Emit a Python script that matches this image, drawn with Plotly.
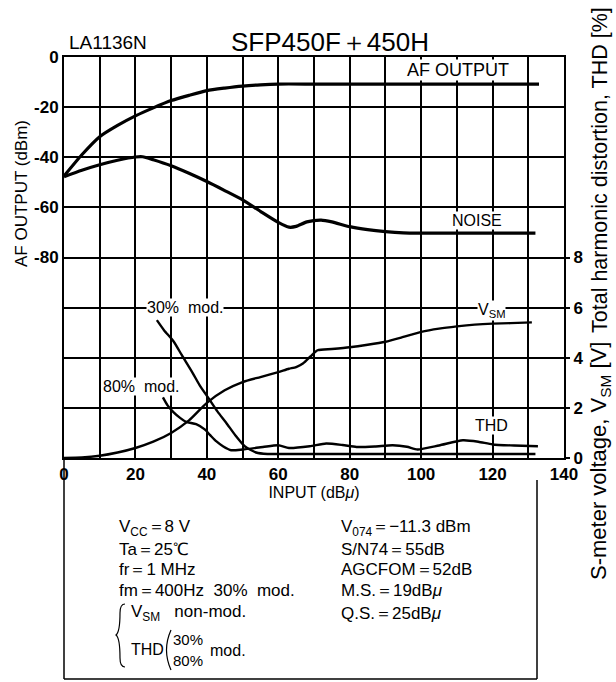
import plotly.graph_objects as go

# ---------------- data ----------------
x_af = [0, 5, 10, 15, 20, 25, 30, 35, 40, 45, 50, 55, 60, 70, 80, 100, 120, 133]
af_output = [-47.5, -39, -31.8, -27.3, -23.5, -20.3, -17.4, -15.3, -13.4, -12.4, -11.6, -11.1,
             -10.8, -10.8, -10.8, -10.8, -10.8, -10.8]

x_noise = [0, 5, 10, 15, 20, 22, 25, 30, 35, 40, 45, 50, 55, 60, 63, 65, 68, 72, 75, 80, 85,
           90, 95, 100, 110, 120, 132]
noise = [-47.8, -45.2, -43, -41.2, -39.9, -39.8, -41.0, -43.4, -46.4, -49.7, -53.3, -57,
         -61.6, -66, -67.9, -67.6, -65.8, -65.1, -65.8, -67.7, -68.9, -69.7, -70.2, -70.3,
         -70.3, -70.3, -70.3]

x_vsm = [0, 5, 10, 15, 20, 25, 30, 35, 40, 45, 50, 55, 60, 63, 65, 67, 69, 71, 75, 80, 85,
         90, 95, 100, 105, 110, 115, 120, 125, 131]
vsm = [0, 0.02, 0.09, 0.22, 0.4, 0.65, 1.0, 1.5, 2.2, 2.7, 3.03, 3.23, 3.43, 3.56, 3.63,
       3.78, 4.05, 4.3, 4.35, 4.42, 4.52, 4.64, 4.83, 5.03, 5.16, 5.25, 5.32, 5.36, 5.38, 5.41]

x_thd30 = [26, 28, 30.7, 33, 36, 38, 40.6, 43, 45.4, 48, 50.6, 53.8, 57, 60, 70, 80, 100,
           120, 132]
thd30 = [5.5, 5.1, 4.65, 4.1, 3.4, 2.9, 2.36, 1.85, 1.41, 0.9, 0.47, 0.22, 0.16, 0.16, 0.16,
         0.16, 0.16, 0.16, 0.16]

x_thd80 = [27.7, 29, 30.7, 32.5, 34.2, 37, 39.4, 41, 42.6, 44.5, 46.8, 50, 55.7, 60, 63,
           68.8, 73.4, 78, 81.9, 87, 92, 96, 99, 105, 111.7, 116, 120, 126, 132.7]
thd80 = [2.42, 2.1, 1.82, 1.6, 1.44, 1.35, 1.14, 0.9, 0.67, 0.47, 0.31, 0.34, 0.44, 0.51,
         0.4, 0.47, 0.58, 0.52, 0.44, 0.46, 0.51, 0.45, 0.34, 0.5, 0.71, 0.65, 0.54, 0.5, 0.47]

x_ticks = list(range(0, 141, 10))
x_ticktext = ["0", "", "20", "", "40", "", "60", "", "80", "", "100", "", "120", "", "140"]
left_ticks = list(range(-160, 1, 20))
left_ticktext = ["", "", "", "", "-80", "-60", "-40", "-20", "0"]
right_ticks = [0, 2, 4, 6, 8]
right_ticktext = ["0", "2", "4", "6", "8"]

# ---------------- layout helpers (pixel -> paper) ----------------
W, H = 616, 682
L, R, T, B = 64, 52, 57, 224
PW, PH = W - L - R, H - T - B


def px(x):
    return (x - L) / PW


def py(y):
    return (H - B - y) / PH


FONT = "Liberation Sans, Arial, sans-serif"
LW = 3.2

fig = go.Figure()
common = dict(mode="lines", line=dict(color="black", width=LW, shape="spline", smoothing=0.6),
              showlegend=False, hoverinfo="skip")
fig.add_trace(go.Scatter(x=x_af, y=af_output, yaxis="y", **common))
fig.add_trace(go.Scatter(x=x_noise, y=noise, yaxis="y", **common))
thin = dict(common)
thin["line"] = dict(color="black", width=2.4, shape="spline", smoothing=0.6)
fig.add_trace(go.Scatter(x=x_vsm, y=vsm, yaxis="y2", **thin))
fig.add_trace(go.Scatter(x=x_thd30, y=thd30, yaxis="y2", **thin))
fig.add_trace(go.Scatter(x=x_thd80, y=thd80, yaxis="y2", **thin))

ann = []


def text(x, y, s, size=16, xanchor="center", yanchor="middle", bg=None, angle=0,
         font=FONT, weight="normal"):
    d = dict(x=px(x), y=py(y), xref="paper", yref="paper", text=s, showarrow=False,
             xanchor=xanchor, yanchor=yanchor, textangle=angle, borderpad=0,
             font=dict(family=font, size=size, color="black", weight=weight))
    if bg:
        d["bgcolor"] = bg
    ann.append(d)


# titles
text(108, 42, "LA1136N", size=19)
text(330, 42, "SFP450F＋450H", size=26)
text(21, 194, "AF OUTPUT (dBm)", size=17, angle=-90)
text(600, 6, "Total harmonic distortion, THD [%]", size=21.5, angle=-90, yanchor="top")
text(600, 341, "S-meter voltage, V<sub>SM</sub> [V]", size=22, angle=-90, yanchor="top")

# curve labels
text(458, 70, "AF OUTPUT", size=18, bg="white")
text(477, 220, "NOISE", size=16, bg="white")
text(185, 307, "30%\u00a0\u00a0mod.", size=16, bg="white")
text(141, 386, "80%\u00a0\u00a0mod.", size=16, bg="white")
text(491, 310, "V<sub>SM</sub>", size=16, bg="white")
text(491, 425, "THD", size=16, bg="white")

# condition block
rows = [528, 549, 569, 590, 613]
lx, rx = 118, 340
BS = 17
text(lx, rows[0], "V<sub>CC</sub>＝8 V", size=BS, xanchor="left")
text(lx, rows[1], "Ta＝25℃", size=BS, xanchor="left")
text(lx, rows[2], "fr＝1 MHz", size=BS, xanchor="left")
text(lx, rows[3], "fm＝400Hz\u00a0\u00a030%\u00a0\u00a0mod.", size=BS, xanchor="left")
text(130, rows[4], "V<sub>SM</sub>\u00a0\u00a0\u00a0non-mod.", size=BS, xanchor="left")
text(130, 649, "THD", size=16, xanchor="left")
text(172, 639, "30%", size=15, xanchor="left")
text(172, 660, "80%", size=15, xanchor="left")
text(209, 650, "mod.", size=16, xanchor="left")

text(rx, rows[0], "V<sub>074</sub>＝−11.3 dBm", size=BS, xanchor="left")
text(rx, rows[1], "S/N74＝55dB", size=BS, xanchor="left")
text(rx, rows[2], "AGCFOM＝52dB", size=BS, xanchor="left")
text(rx, rows[3], "M.S.＝19dB<i>μ</i>", size=BS, xanchor="left")
text(rx, rows[4], "Q.S.＝25dB<i>μ</i>", size=BS, xanchor="left")


def path(points):
    # quadratic path in paper coordinates from pixel control points
    s = "M {} {}".format(px(points[0][0]), py(points[0][1]))
    for i in range(1, len(points), 2):
        c, e = points[i], points[i + 1]
        s += " Q {} {} {} {}".format(px(c[0]), py(c[1]), px(e[0]), py(e[1]))
    return s


brace = path([(125, 604), (120, 604), (120, 613), (120, 632), (116, 635),
              (120, 638), (120, 658), (120, 667), (125, 667)])
paren = path([(171, 630), (162, 650), (171, 670)])

shapes = [
    dict(type="line", xref="paper", yref="paper", x0=px(64), x1=px(64), y0=py(458), y1=py(679),
         line=dict(color="black", width=1.5)),
    dict(type="line", xref="paper", yref="paper", x0=px(537), x1=px(537), y0=py(480), y1=py(679),
         line=dict(color="black", width=1.5)),
    dict(type="line", xref="paper", yref="paper", x0=px(64), x1=px(537), y0=py(679), y1=py(679),
         line=dict(color="black", width=1.5)),
    dict(type="path", xref="paper", yref="paper", path=brace, line=dict(color="black", width=1.2)),
    dict(type="path", xref="paper", yref="paper", path=paren, line=dict(color="black", width=1.2)),
]

fig.update_layout(
    width=W, height=H,
    margin=dict(l=L, r=R, t=T, b=B, pad=0),
    paper_bgcolor="white", plot_bgcolor="white",
    font=dict(family=FONT, color="black"),
    xaxis=dict(range=[0, 140], tickvals=x_ticks, ticktext=x_ticktext,
               showgrid=True, gridcolor="black", gridwidth=1.5,
               showline=True, linecolor="black", linewidth=2, mirror=True,
               ticks="", zeroline=False,
               tickfont=dict(family=FONT, size=17, weight="bold"),
               title=dict(text="INPUT (dB<i>μ</i>)", standoff=2,
                          font=dict(family=FONT, size=16))),
    yaxis=dict(range=[-160, 0], tickvals=left_ticks, ticktext=left_ticktext,
               showgrid=True, gridcolor="black", gridwidth=1.5,
               showline=True, linecolor="black", linewidth=2, mirror=True,
               ticks="", zeroline=False, ticklabelstandoff=0,
               tickfont=dict(family=FONT, size=17, weight="bold")),
    yaxis2=dict(range=[0, 16], overlaying="y", side="right", tickvals=right_ticks,
                ticktext=right_ticktext, showgrid=False, zeroline=False,
                ticks="outside", ticklen=5, tickwidth=1.5, tickcolor="black",
                ticklabelstandoff=0,
                tickfont=dict(family=FONT, size=17, weight="bold")),
    annotations=ann,
    shapes=shapes,
)

fig.write_html("out.html", config={"displayModeBar": False},
               post_script="document.body.style.margin='0';")
